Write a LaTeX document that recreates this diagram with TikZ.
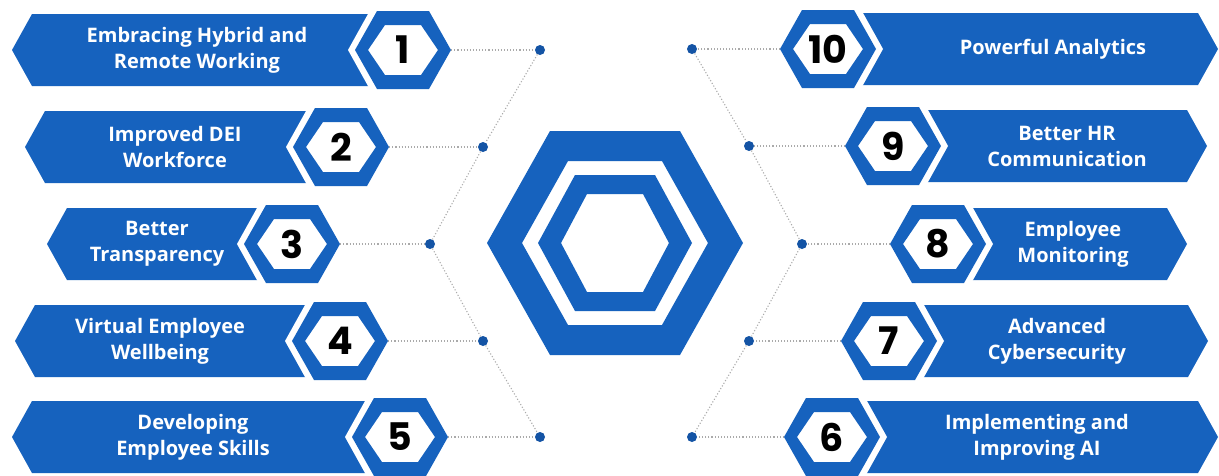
\documentclass[tikz,border=0pt]{standalone}
\usepackage{fontspec}
\setmainfont{Open Sans}
\newfontfamily\numfont{Poppins}
\usepackage{xcolor}
\usetikzlibrary{positioning}

\definecolor{bannerblue}{RGB}{22,98,190}
\definecolor{jointblue}{RGB}{20,84,165}
\definecolor{linegray}{RGB}{170,170,170}

\tikzset{
  banner/.style={fill=bannerblue},
  halo/.style={fill=white},
  ring/.style={fill=bannerblue, even odd rule},
  numlabel/.style={font=\fontsize{38}{38}\numfont\bfseries, text=black,
    minimum width=96pt, minimum height=78pt, inner sep=0pt},
  bannertext/.style={font=\fontsize{20}{26}\selectfont\bfseries, text=white, align=center},
  joint/.style={circle, fill=jointblue, inner sep=0pt, minimum size=10pt},
  link/.style={linegray, dotted, line width=1.1pt}
}
% hexagon with pointed left/right ends: half width, half top edge, half height
\newcommand{\hexpath}[3]{(-#1,0) -- (-#2,-#3) -- (#2,-#3) -- (#1,0) -- (#2,#3) -- (-#2,#3) -- cycle}

\begin{document}
\begin{tikzpicture}[x=1pt, y=-1pt]
  \useasboundingbox (0,0) rectangle (1219,475);
  \fill[white] (0,0) rectangle (1219,475);

  % left column
  \foreach \n/\y/\hx/\tip/\tx/\txt/\px in {
    1/50/403/12/197/{Embracing Hybrid and\\Remote Working}/540,
    2/147/341/25/175/{Improved DEI\\Workforce}/483,
    3/244/292/47/157/{Better\\Transparency}/430,
    4/341/340/15/160/{Virtual Employee\\Wellbeing}/483,
    5/437/400/12/193/{Developing\\Employee Skills}/540}{
    \fill[banner] (\tip,\y) -- (\tip+20,\y-36) -- (\hx,\y-36) -- (\hx,\y+36) -- (\tip+20,\y+36) -- cycle;
    \begin{scope}[shift={(\hx,\y)}]
      \fill[halo] \hexpath{55}{30}{45};
      \fill[ring] \hexpath{48}{26}{39} \hexpath{35}{18}{25};
    \end{scope}
    \node[numlabel] (b\n) at (\hx,\y) {\n};
    \node[bannertext] (t\n) at (\tx,\y) {\txt};
    \node[joint] (d\n) at (\px,\y) {};
  }

  % right column
  \foreach \n/\y/\hx/\tip/\tx/\txt/\px in {
    10/49/828/1218/1053/{Powerful Analytics}/692,
    9/146/893/1207/1067/{Better HR\\Communication}/749,
    8/244/938/1187/1073/{Employee\\Monitoring}/802,
    7/341/889/1208/1057/{Advanced\\Cybersecurity}/749,
    6/437/832/1218/1037/{Implementing and\\Improving AI}/692}{
    \fill[banner] (\hx,\y-36) -- (\tip-20,\y-36) -- (\tip,\y) -- (\tip-20,\y+36) -- (\hx,\y+36) -- cycle;
    \begin{scope}[shift={(\hx,\y)}]
      \fill[halo] \hexpath{55}{30}{45};
      \fill[ring] \hexpath{48}{26}{39} \hexpath{35}{18}{25};
    \end{scope}
    \node[numlabel] (b\n) at (\hx,\y) {\n};
    \node[bannertext] (t\n) at (\tx,\y) {\txt};
    \node[joint] (d\n) at (\px,\y) {};
  }

  % dotted connectors
  \foreach \n in {1,...,5} \draw[link] (b\n.east) -- (d\n);
  \foreach \n in {6,...,10} \draw[link] (b\n.west) -- (d\n);
  \draw[link] (d1) -- (d2) -- (d3) -- (d4) -- (d5);
  \draw[link] (d10) -- (d9) -- (d8) -- (d7) -- (d6);

  % central emblem
  \begin{scope}[shift={(615,243)}]
    \fill[ring] \hexpath{128}{65}{112} \hexpath{93}{47}{82};
    \fill[ring] \hexpath{77}{40}{68} \hexpath{54}{28}{49};
  \end{scope}
\end{tikzpicture}
\end{document}
